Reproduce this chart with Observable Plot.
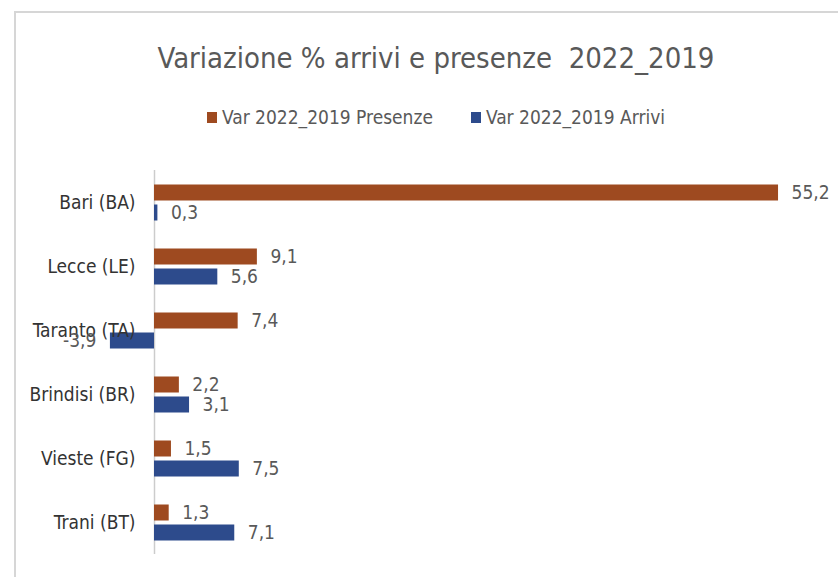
<!DOCTYPE html>
<html>
<head>
<meta charset="utf-8">
<script src="https://cdn.jsdelivr.net/npm/d3@7"></script>
<script src="https://cdn.jsdelivr.net/npm/@observablehq/plot@0.6"></script>
<style>
  html, body { margin: 0; padding: 0; background: #fff; width: 838px; height: 577px; overflow: hidden; }
  body { position: relative; font-family: "Liberation Sans Narrow", "DejaVu Sans Condensed", "Liberation Sans", sans-serif; }
  #frame { position: absolute; left: 14px; top: 11px; width: 900px; height: 700px; border: 2px solid #d6d6d6; box-sizing: border-box; }
  #title { position: absolute; left: 0; width: 872px; top: 41px; text-align: center; font-size: 29px; line-height: 34px; color: #595959; white-space: pre; }
  #legend { position: absolute; left: 0; width: 872px; top: 106px; display: flex; justify-content: center; gap: 38px; font-size: 19px; line-height: 22px; color: #595959; }
  .item { display: flex; align-items: center; gap: 5px; }
  .sw { width: 10px; height: 11px; display: inline-block; }
  #chart { position: absolute; left: 0; top: 0; }
</style>
</head>
<body>
<div id="frame"></div>
<div id="title"></div>
<div id="legend"></div>
<div id="chart"></div>
<script>
const cities = ["Bari (BA)", "Lecce (LE)", "Taranto (TA)", "Brindisi (BR)", "Vieste (FG)", "Trani (BT)"];
const seriesNames = ["Var 2022_2019 Presenze", "Var 2022_2019 Arrivi"];
const presenze = [55.2, 9.1, 7.4, 2.2, 1.5, 1.3];
const arrivi = [0.3, 5.6, -3.9, 3.1, 7.5, 7.1];
const colors = ["#9E4A20", "#2D4B8C"];
const titleText = "Variazione % arrivi e presenze  2022_2019";

document.getElementById("title").textContent = titleText;
const legend = document.getElementById("legend");
seriesNames.forEach((s, i) => {
  const it = document.createElement("div");
  it.className = "item";
  const sw = document.createElement("span");
  sw.className = "sw";
  sw.style.background = colors[i];
  const tx = document.createElement("span");
  tx.textContent = s;
  it.appendChild(sw); it.appendChild(tx);
  legend.appendChild(it);
});

const rows = [];
cities.forEach((c, i) => {
  rows.push({city: c, series: seriesNames[0], value: presenze[i]});
  rows.push({city: c, series: seriesNames[1], value: arrivi[i]});
});
const fmt = d => d.value.toFixed(1).replace(".", ",");
const font = '"Liberation Sans Narrow", "DejaVu Sans Condensed", "Liberation Sans", sans-serif';

const chart = Plot.plot({
  width: 838,
  height: 577,
  marginLeft: 154,
  marginRight: 5.7,
  marginTop: 169.5,
  marginBottom: 23.5,
  style: {fontFamily: font, fontSize: "19px", background: "transparent", overflow: "visible"},
  x: {domain: [0, 60], axis: null},
  y: {domain: seriesNames, axis: null, paddingInner: 0.21, paddingOuter: 0.63},
  fy: {domain: cities, axis: null, padding: 0},
  color: {domain: seriesNames, range: colors},
  marks: [
    Plot.ruleX([0], {stroke: "#cccccc", strokeWidth: 1.5}),
    Plot.barX(rows, {fy: "city", y: "series", x: "value", fill: "series"}),
    Plot.text(cities, {fy: d => d, text: d => d, frameAnchor: "left", dx: -19, textAnchor: "end", fill: "#333333", fontSize: 19}),
    Plot.text(rows.filter(d => d.value >= 0), {fy: "city", y: "series", x: "value", text: fmt, dx: 13, textAnchor: "start", fill: "#595959", fontSize: 19}),
    Plot.text(rows.filter(d => d.value < 0), {fy: "city", y: "series", x: "value", text: fmt, dx: -14, textAnchor: "end", fill: "#595959", fontSize: 19})
  ]
});
document.getElementById("chart").appendChild(chart);
</script>
</body>
</html>
